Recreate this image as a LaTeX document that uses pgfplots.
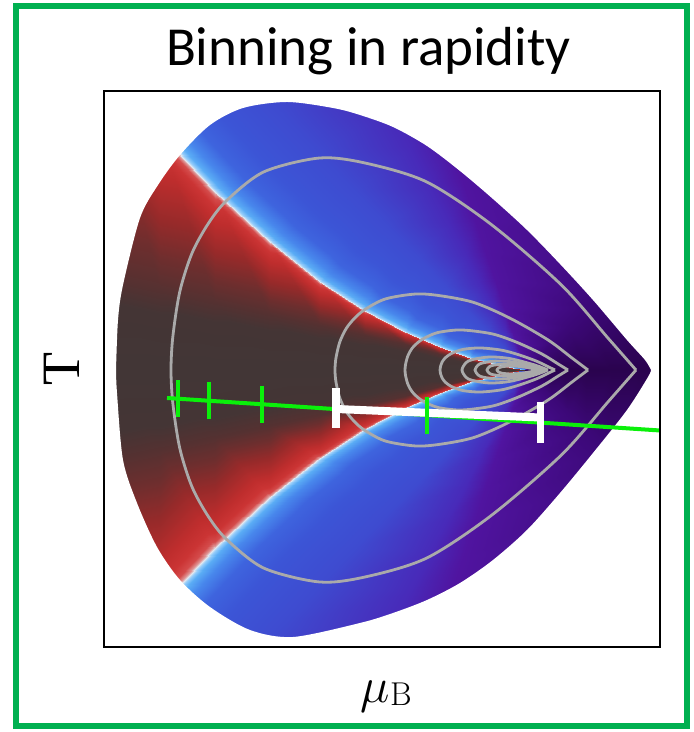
\documentclass[border=0pt]{standalone}
\usepackage{pgfplots}
\pgfplotsset{compat=1.18}
\usepackage{fontspec}
\newfontfamily\titlefont{Carlito}
\newfontfamily\labelfont{Liberation Serif}
\definecolor{frame}{RGB}{0,176,80}
\definecolor{contour}{RGB}{170,170,170}
\definecolor{track}{RGB}{10,240,10}

\begin{document}
\begin{tikzpicture}[x=1pt,y=1pt]
\useasboundingbox (-52,-42.5) rectangle (294.5,323.5);
\draw[frame, line width=3pt] (-43.75,-39.5) rectangle (291.5,320.5);
\begin{axis}[
  at={(0,0)}, anchor=south west,
  width=278pt, height=278pt, scale only axis,
  xmin=104, xmax=660, ymin=93, ymax=649,
  xtick=\empty, ytick=\empty,
  axis on top,
  axis line style={line width=0.6pt},
  point meta min=0, point meta max=6,
  colormap={phase}{
    rgb255(0pt)=(66,54,54)
    rgb255(35pt)=(68,53,53)
    rgb255(50pt)=(85,49,49)
    rgb255(60pt)=(110,46,46)
    rgb255(72pt)=(150,42,42)
    rgb255(86pt)=(190,45,45)
    rgb255(93pt)=(203,52,52)
    rgb255(97pt)=(212,75,75)
    rgb255(99pt)=(222,150,150)
    rgb255(100pt)=(225,232,240)
    rgb255(102pt)=(150,205,250)
    rgb255(106pt)=(90,172,245)
    rgb255(115pt)=(72,135,236)
    rgb255(130pt)=(62,100,222)
    rgb255(155pt)=(60,85,214)
    rgb255(200pt)=(62,75,208)
    rgb255(300pt)=(72,42,185)
    rgb255(400pt)=(80,20,160)
    rgb255(500pt)=(60,8,120)
    rgb255(600pt)=(42,3,78)
  },
]
% phase field: curves fanning out of the critical point, meta = phase index
\addplot[surf, shader=interp, mesh/cols=12, point meta=explicit]
  table[x=x, y=y, meta=s] {
x y s
525 370 6
533.6 370 6
546.4 370 6
564.3 370 6
585.6 370 6
610.8 370 6
639.3 370 6
671.4 370 6
707.1 370 6
746.4 370 6
785.7 370 6
825 370 6
525 370 5
531.1 376.1 5
540.1 385.1 5
552.8 397.8 5
567.8 412.8 5
585.6 430.6 5
605.8 450.8 5
628.5 473.5 5
653.7 498.7 5
681.5 526.5 5
709.2 554.2 5
737 582 5
525 370 4
522 379 4
517.6 392.3 4
511.4 411 4
504 433.2 4
495.3 459.5 4
485.4 489.3 4
474.2 522.7 4
461.9 560 4
448.2 601 4
434.6 642 4
421 683 4
525 370 3
520.5 378.6 3
513.9 391.6 3
504.6 409.6 3
493.5 431 3
480.4 456.4 3
465.6 485.1 3
448.9 517.4 3
430.3 553.3 3
409.9 592.9 3
389.4 632.4 3
369 672 3
525 370 2
517 378.4 2
505 390.9 2
488.3 408.4 2
468.4 429.2 2
444.9 453.8 2
418.3 481.6 2
388.4 513 2
355 547.9 2
318.4 586.2 2
281.7 624.6 2
245 663 2
525 370 1
513 372 1
495 375.8 1
470 382.4 1
440 392.7 1
405 407.8 1
365 429.2 1
320 458.4 1
270 497.5 1
215 548.3 1
160 607.4 1
105 674.8 1
525 370 0.5
513 371.4 0.5
495 374 0.5
470 378.7 0.5
440 385.9 0.5
405 396.4 0.5
365 405.2 0.5
320 415.1 0.5
270 426.1 0.5
215 438.2 0.5
160 450.3 0.5
105 462.4 0.5
525 370 0
513 370 0
495 370 0
470 370 0
440 370 0
405 370 0
365 370 0
320 370 0
270 370 0
215 370 0
160 370 0
105 370 0
525 370 0.5
513 368.6 0.5
495 366 0.5
470 361.3 0.5
440 354.1 0.5
405 343.6 0.5
365 334.8 0.5
320 324.9 0.5
270 313.9 0.5
215 301.8 0.5
160 289.7 0.5
105 277.6 0.5
525 370 1
513 368 1
495 364.2 1
470 357.6 1
440 347.3 1
405 332.2 1
365 310.8 1
320 281.6 1
270 242.5 1
215 191.7 1
160 132.6 1
105 65.2 1
525 370 2
517 361.6 2
505 349.1 2
488.3 331.6 2
468.4 310.8 2
444.9 286.2 2
418.3 258.4 2
388.4 227 2
355 192.1 2
318.4 153.8 2
281.7 115.4 2
245 77 2
525 370 3
520.5 361.4 3
513.9 348.4 3
504.6 330.4 3
493.5 309 3
480.4 283.6 3
465.6 254.9 3
448.9 222.6 3
430.3 186.7 3
409.9 147.1 3
389.4 107.6 3
369 68 3
525 370 4
522 361 4
517.6 347.7 4
511.4 329 4
504 306.8 4
495.3 280.5 4
485.4 250.7 4
474.2 217.3 4
461.9 180 4
448.2 139 4
434.6 98 4
421 57 4
525 370 5
531.1 363.9 5
540.1 354.9 5
552.8 342.2 5
567.8 327.2 5
585.6 309.4 5
605.8 289.2 5
628.5 266.5 5
653.7 241.3 5
681.5 213.5 5
709.2 185.8 5
737 158 5
525 370 6
533.6 370 6
546.4 370 6
564.3 370 6
585.6 370 6
610.8 370 6
639.3 370 6
671.4 370 6
707.1 370 6
746.4 370 6
785.7 370 6
825 370 6
};

% white surroundings of the physical region
\addplot[fill=white, draw=none, smooth, tension=0.5] coordinates {
(651,370) (645,380) (627,400) (593,440) (560,476) (527,510) (493,541) (460,569)
(427,594) (393,613) (360,625) (333,632) (287,638) (243,632) (210,615)
(180,585) (158,555) (140,522) (123,455) (118,420) (116,370)}
  -- (axis cs:60,370) -- (axis cs:60,700) -- (axis cs:700,700) -- (axis cs:700,370) -- cycle;
\addplot[fill=white, draw=none, smooth, tension=0.5] coordinates {
(651,370) (648,363) (627,330) (593,287) (560,247) (527,210) (493,180) (460,157)
(427,140) (393,127) (360,117) (293,103) (250,110) (210,133)
(180,160) (157,193) (137,237) (123,280) (117,347) (116,370)}
  -- (axis cs:60,370) -- (axis cs:60,40) -- (axis cs:700,40) -- (axis cs:700,370) -- cycle;

% contours
\pgfplotsset{cstyle/.style={contour, line width=1.4pt, smooth, tension=0.5}}
\addplot[cstyle] coordinates {
(636,370) (608.1,401.8) (561.6,454.8) (491.9,515) (426.8,558) (366.3,576.7)
(319.8,582) (264,568.2) (226.8,539.6) (208.2,516.3) (191.9,486.6) (179.8,448.4)
(172.9,403.9) (171,370) (172.9,336.1) (179.8,291.6) (191.9,253.4) (208.2,223.7)
(226.8,200.4) (264,171.8) (319.8,158) (366.3,163.3) (426.8,182) (491.9,225)
(561.6,285.2) (608.1,338.2) (636,370)};
\addplot[cstyle] coordinates {
(588,370) (572.8,381.4) (547.5,400.4) (509.6,422) (474.2,437.4) (441.3,444.1)
(416,446) (385.6,441.1) (365.4,430.8) (355.2,422.4) (346.4,411.8) (339.8,398.1)
(336,382.2) (335,370) (336,357.8) (339.8,341.9) (346.4,328.2) (355.2,317.6)
(365.4,309.2) (385.6,298.9) (416,294) (441.3,295.9) (474.2,302.6) (509.6,318)
(547.5,339.6) (572.8,358.6) (588,370)};
\addplot[cstyle] coordinates {
(568,370) (558.2,376) (541.9,386) (517.5,397.4) (494.7,405.5) (473.5,409)
(457.2,410) (437.6,407.4) (424.6,402) (418,397.6) (412.3,392) (408.1,384.8)
(405.7,376.4) (405,370) (405.7,363.6) (408.1,355.2) (412.3,348) (418,342.4)
(424.6,338) (437.6,332.6) (457.2,330) (473.5,331) (494.7,334.5) (517.5,342.6)
(541.9,354) (558.2,364) (568,370)};
\addplot[cstyle] coordinates {
(555,370) (548.1,373.3) (536.6,378.8) (519.4,385) (503.3,389.5) (488.3,391.5)
(476.8,392) (463,390.6) (453.8,387.6) (449.2,385.2) (445.2,382.1) (442.2,378.1)
(440.5,373.5) (440,370) (440.5,366.5) (442.2,361.9) (445.2,357.9) (449.2,354.8)
(453.8,352.4) (463,349.4) (476.8,348) (488.3,348.5) (503.3,350.5) (519.4,355)
(536.6,361.2) (548.1,366.7) (555,370)};
\addplot[cstyle] coordinates {
(548,370) (534.2,375.2) (509.3,381.5) (489.5,383) (472.3,380.4) (465.9,377.2)
(462,370) (465.9,362.8) (472.3,359.6) (489.5,357) (509.3,358.5) (534.2,364.8) (548,370)};
\addplot[cstyle] coordinates {
(544,370) (533,373.6) (513,378) (497.1,379) (483.3,377.2) (478.1,375)
(475,370) (478.1,365) (483.3,362.8) (497.1,361) (513,362) (533,366.4) (544,370)};
\addplot[cstyle] coordinates {
(541,370) (532.4,372.4) (516.7,375.3) (504.3,376) (493.5,374.8) (489.4,373.3)
(487,370) (489.4,366.7) (493.5,365.2) (504.3,364) (516.7,364.7) (532.4,367.6) (541,370)};
\addplot[cstyle] coordinates {
(538,370) (531.4,371.6) (519.6,373.5) (510.1,374) (501.9,373.2) (498.8,372.2)
(497,370) (498.8,367.8) (501.9,366.8) (510.1,366) (519.6,366.5) (531.4,368.4) (538,370)};

% freeze-out line with rapidity bins
\addplot[track, line width=2pt] coordinates {(167,342) (660,309.5)};
\addplot[track, only marks, mark=|, mark size=9.25pt, mark options={line width=1.75pt}]
  coordinates {(178,341.3) (209,339.2) (262,335.7) (427,324.8)};

% acceptance bin
\addplot[white, line width=4pt] coordinates {(336,331) (540,322.5)};
\addplot[white, line width=4pt] coordinates {(336,352) (336,312)};
\addplot[white, line width=3.5pt] coordinates {(540,338) (540,297)};
\end{axis}

\node[font=\titlefont\fontsize{27.5}{33}\selectfont, anchor=base] at (132.25,290.5) {Binning in rapidity};
\node[font=\labelfont\fontsize{27}{32}\selectfont, rotate=90] at (-21,139) {T};
\node[anchor=base west, inner sep=0pt] at (128,-28)
  {\fontsize{24.88}{30}\selectfont$\mu$\kern0.2pt\raisebox{-1pt}{\fontsize{16.5}{20}\selectfont B}};
\end{tikzpicture}
\end{document}
